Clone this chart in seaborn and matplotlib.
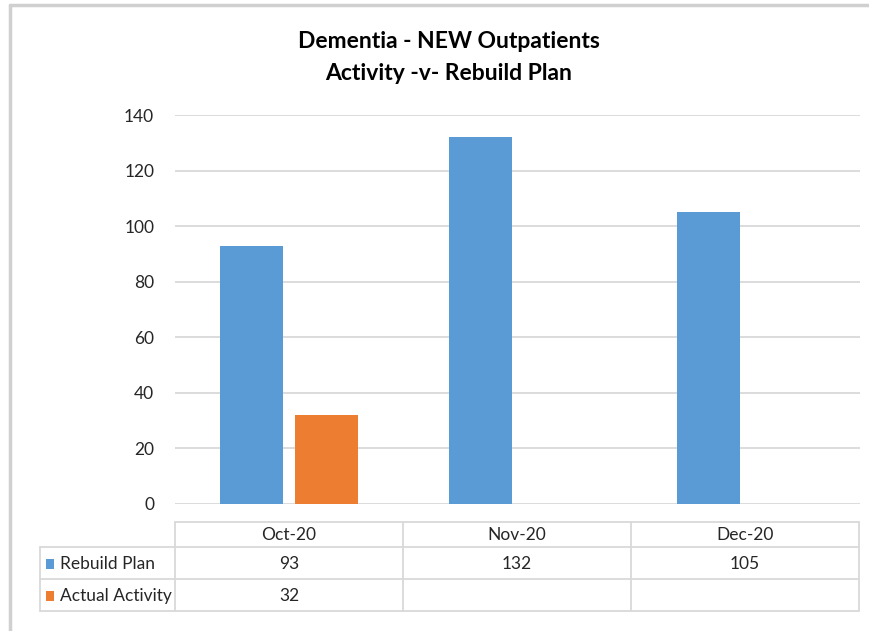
import matplotlib
matplotlib.use("Agg")
import matplotlib.pyplot as plt
from matplotlib.lines import Line2D
from matplotlib.patches import Rectangle
import numpy as np
import pandas as pd
import seaborn as sns

# ─── Data ─────────────────────────────────────────────────────────────────────
months = ["Oct-20", "Nov-20", "Dec-20"]
rebuild_plan = [93, 132, 105]
actual_activity = [32, np.nan, np.nan]
series_names = ["Rebuild Plan", "Actual Activity"]
series_colors = ["#5B9BD5", "#ED7D31"]
y_ticks = [0, 20, 40, 60, 80, 100, 120, 140]

df = pd.DataFrame({
    "month": months * 2,
    "series": [series_names[0]] * 3 + [series_names[1]] * 3,
    "value": rebuild_plan + actual_activity,
})

sns.set_style("white")
plt.rcParams["font.family"] = ["Lato", "DejaVu Sans"]

GRID = "#d9d9d9"
TXT = "#262626"

fig = plt.figure(figsize=(8.7, 6.31), dpi=100)
W, H = 870, 631


def fx(px):
    return px / W


def fy(py):
    return 1 - py / H


ax = fig.add_axes([fx(175), fy(504), fx(860) - fx(175), fy(115) - fy(504)])
sns.barplot(
    data=df, x="month", y="value", hue="series",
    palette=series_colors, hue_order=series_names, order=months,
    width=0.653, gap=0.155, ax=ax, legend=False, errorbar=None,
    saturation=1, linewidth=0,
)
ax.set_ylim(0, 140)
ax.set_xlim(-0.5, 2.5)
ax.set_yticks(y_ticks)
ax.set_yticklabels([str(t) for t in y_ticks], fontsize=12.5, color=TXT)
ax.set_xticks([])
ax.set_xlabel("")
ax.set_ylabel("")
ax.tick_params(axis="y", length=0, pad=15)
ax.yaxis.grid(True, color=GRID, linewidth=1.3)
ax.set_axisbelow(True)
sns.despine(ax=ax, left=True, bottom=True, top=True, right=True)

# title
fig.text(fx(449), fy(41), "Dementia - NEW Outpatients", ha="center", va="center",
         fontsize=16.5, fontweight="bold", color="black")
fig.text(fx(449), fy(73), "Activity -v- Rebuild Plan", ha="center", va="center",
         fontsize=16.5, fontweight="bold", color="black")

# ─── Data table below the plot ───────────────────────────────────────────────
col_x = [175, 403, 631, 859]
row_y = [522, 547, 579, 611]
leg_left = 40
tbl = dict(color=GRID, linewidth=1.3, transform=fig.transFigure)

fig.add_artist(Line2D([fx(col_x[0]), fx(col_x[-1])], [fy(row_y[0])] * 2, **tbl))
for yy in row_y[1:]:
    fig.add_artist(Line2D([fx(leg_left), fx(col_x[-1])], [fy(yy)] * 2, **tbl))
for xx in col_x:
    fig.add_artist(Line2D([fx(xx)] * 2, [fy(row_y[0]), fy(row_y[-1])], **tbl))
fig.add_artist(Line2D([fx(leg_left)] * 2, [fy(row_y[1]), fy(row_y[-1])], **tbl))

for i, m in enumerate(months):
    cx = (col_x[i] + col_x[i + 1]) / 2
    fig.text(fx(cx), fy((row_y[0] + row_y[1]) / 2 + 1), m, ha="center", va="center",
             fontsize=12.5, color=TXT)

for r, (name, vals, col) in enumerate(zip(series_names, [rebuild_plan, actual_activity], series_colors)):
    cy = (row_y[r + 1] + row_y[r + 2]) / 2 + 1
    fig.add_artist(Rectangle((fx(46), fy(cy + 5)), fx(8), fy(0) - fy(10),
                             facecolor=col, edgecolor="none", transform=fig.transFigure))
    fig.text(fx(60), fy(cy), name, ha="left", va="center", fontsize=12.5, color=TXT)
    for i, v in enumerate(vals):
        if not np.isnan(v):
            cx = (col_x[i] + col_x[i + 1]) / 2
            fig.text(fx(cx), fy(cy), f"{int(v)}", ha="center", va="center",
                     fontsize=12.5, color=TXT)

# chart border (partially visible in the screenshot)
border = dict(color="#d0d0d0", linewidth=2.5, transform=fig.transFigure)
fig.add_artist(Line2D([fx(10), 1], [fy(5)] * 2, **border))
fig.add_artist(Line2D([fx(10)] * 2, [fy(5), 0], **border))

fig.savefig("out.png", dpi=100)
